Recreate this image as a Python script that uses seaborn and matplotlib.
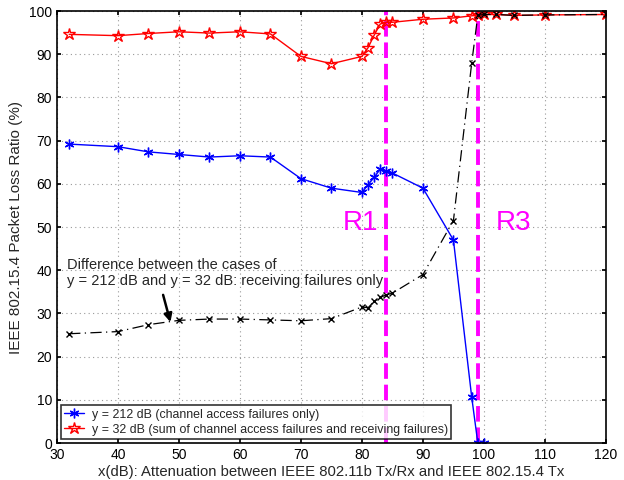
import numpy as np
import pandas as pd
import seaborn as sns
import matplotlib
matplotlib.use("Agg")
import matplotlib.pyplot as plt

sns.set_theme(style="white")
plt.rcParams['font.family'] = ['Liberation Sans', 'DejaVu Sans']

x_blue = [32, 40, 45, 50, 55, 60, 65, 70, 75, 80, 81, 82, 83, 84, 85, 90, 95, 98, 99, 100]
y_blue = [69.2, 68.6, 67.4, 66.8, 66.2, 66.5, 66.2, 61.2, 59.0, 58.0, 59.8, 61.5, 63.4, 63.0, 62.5, 59.0, 47.0, 10.6, 0.0, 0.0]

x_red = [32, 40, 45, 50, 55, 60, 65, 70, 75, 80, 81, 82, 83, 84, 85, 90, 95, 98, 99, 100, 102, 105, 110, 120]
y_red = [94.6, 94.3, 94.8, 95.2, 94.9, 95.2, 94.7, 89.5, 87.8, 89.5, 91.5, 94.4, 97.0, 97.4, 97.4, 98.1, 98.4, 98.9, 99.0, 99.2, 99.2, 99.0, 99.1, 99.2]

x_diff = [32, 40, 45, 50, 55, 60, 65, 70, 75, 80, 81, 82, 83, 84, 85, 90, 95, 98, 99, 100, 102, 105, 110, 120]
y_diff = [25.3, 25.8, 27.4, 28.4, 28.7, 28.7, 28.5, 28.3, 28.8, 31.5, 31.3, 32.8, 33.7, 34.3, 34.7, 39.0, 51.5, 88.0, 99.0, 99.2, 99.2, 99.0, 99.1, 99.2]

region_x = [84, 99]
region_labels = ["R1", "R3"]
region_label_x = [79.8, 104.8]

lbl_blue = "y = 212 dB (channel access failures only)"
lbl_red = "y = 32 dB (sum of channel access failures and receiving failures)"
note = "Difference between the cases of\ny = 212 dB and y = 32 dB: receiving failures only"

df_blue = pd.DataFrame({"x": x_blue, "y": y_blue})
df_red = pd.DataFrame({"x": x_red, "y": y_red})
df_diff = pd.DataFrame({"x": x_diff, "y": y_diff})

fig = plt.figure(figsize=(6.24, 4.8), dpi=100)
ax = fig.add_axes([0.0913, 0.077, 0.8797, 0.9])

sns.lineplot(data=df_blue, x="x", y="y", ax=ax, color="blue", marker=(6, 2, 0),
             markersize=7, markeredgecolor="blue", markeredgewidth=1, lw=1,
             label=lbl_blue, sort=False)
sns.lineplot(data=df_red, x="x", y="y", ax=ax, color="red", marker="*",
             markersize=9, markerfacecolor="none", markeredgecolor="red",
             markeredgewidth=1, lw=1, label=lbl_red, sort=False)
ax.plot(df_diff["x"], df_diff["y"], color="black", marker="x", markersize=4.5,
        markeredgewidth=1, lw=0.9, linestyle=(0, (9, 3.5, 1, 3.5)), zorder=3)

for xv in region_x:
    ax.axvline(xv, color="magenta", lw=2.8, linestyle=(0, (4, 1.5)), zorder=1)
for lx, lt in zip(region_label_x, region_labels):
    ax.text(lx, 51.0, lt, color="magenta", fontsize=20, ha="center", va="center")

ax.text(31.6, 39.4, note, fontsize=10.5, ha="left", va="center", linespacing=1.2)
ax.annotate("", xy=(48.6, 28.0), xytext=(47.4, 34.3),
            arrowprops=dict(arrowstyle="-|>", color="black", lw=1.8, mutation_scale=12,
                            shrinkA=0, shrinkB=0))

ax.set_xlim(30, 120)
ax.set_ylim(0, 100)
ax.set_xticks(np.arange(30, 121, 10))
ax.set_yticks(np.arange(0, 101, 10))
ax.grid(True, color="#999999", linestyle=(0, (1, 3)), lw=0.8)
for s in ax.spines.values():
    s.set_color("black")
    s.set_linewidth(1.2)
ax.tick_params(axis="both", labelsize=10, direction="in", length=3, colors="black",
               left=True, bottom=True, right=True, top=True)
ax.set_xlabel("x(dB): Attenuation between IEEE 802.11b Tx/Rx and IEEE 802.15.4 Tx", fontsize=10.7, labelpad=2)
ax.set_ylabel("IEEE 802.15.4 Packet Loss Ratio (%)", fontsize=11, labelpad=4)

leg = ax.legend(loc="lower left", fontsize=8.9, frameon=True, fancybox=False,
                edgecolor="black", borderpad=0.3, labelspacing=0.25,
                handlelength=1.6, handletextpad=0.6, borderaxespad=0.3)
leg.get_frame().set_linewidth(1.2)

fig.savefig("out.png", dpi=100)
